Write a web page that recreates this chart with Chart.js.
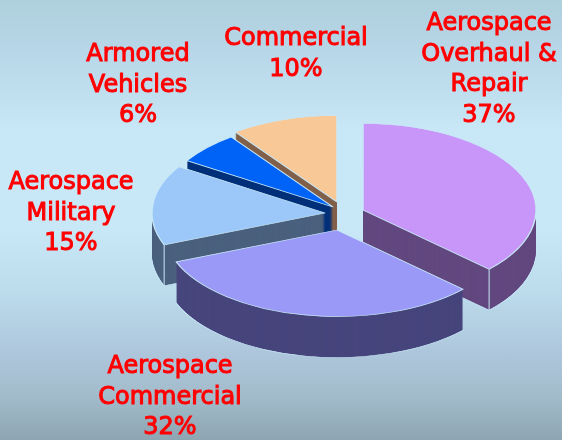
<!DOCTYPE html>
<html>
<head>
<meta charset="utf-8">
<script src="https://cdn.jsdelivr.net/npm/chart.js@4"></script>
<style>
html,body{margin:0;padding:0;width:562px;height:440px;overflow:hidden;
background:linear-gradient(to bottom,#aed0dc 0%,#b6d5e6 10%,#c0e0f0 22%,#c8e8f8 30%,#c8e8f8 52%,#bcdcec 66%,#aec6dc 80%,#a2bccb 90%,#8ea5b2 100%);}
canvas{display:block}
</style>
</head>
<body>
<canvas id="c" width="562" height="440"></canvas>
<script>
const categories = ["Aerospace Overhaul & Repair","Aerospace Commercial","Aerospace Military","Armored Vehicles","Commercial"];
const shares = [37,32,15,6,10];
const labelLines = [["Aerospace","Overhaul &","Repair"],["Aerospace","Commercial"],["Aerospace","Military"],["Armored","Vehicles"],["Commercial"]];
const topColors = ["#c896f8","#9b99f8","#9bc8f8","#0063f8","#f8c896"];
const wallColors = ["#62487f","#46457c","#4a607e","#00307a","#80604a"];
const edgeColor = "#c8e8f8";

// style: explode shift, projection and label placement
const explodeX = [27,1,-11,-3,1];
const explodeY = [2,22,5,-1,-6];
const squash = 0.5, depth = 41;
const paintOrder = [4,3,2,0,1];
const seamAt = {0:"endAngle",2:"startAngle"};
const labelX = [489,170,71,138,296];
const labelY = [24,367,183,55,39];
const lineStep = 30.5;

const pie3d = {
  id:"pie3d",
  beforeDatasetsDraw(chart){
    const ctx = chart.ctx, arcs = chart.getDatasetMeta(0).data;
    const drawLayer = (arc,i,k,fill,bw)=>{
      const o = arc.options;
      arc.options = Object.assign({},o,{backgroundColor:fill,borderColor:edgeColor,borderWidth:bw,borderAlign:"center"});
      ctx.save();
      ctx.translate(arc.x+explodeX[i],arc.y+explodeY[i]+k);
      ctx.scale(1,squash);
      ctx.translate(-arc.x,-arc.y);
      arc.draw(ctx);
      ctx.restore();
      arc.options = o;
    };
    paintOrder.forEach(i=>{
      const arc = arcs[i];
      drawLayer(arc,i,depth,wallColors[i],1.2);
      for(let k=depth-1;k>0;k--) drawLayer(arc,i,k,wallColors[i],0);
      if(seamAt[i]){
        const a = arc[seamAt[i]], r = arc.outerRadius;
        const x = arc.x+explodeX[i]+r*Math.cos(a), y = arc.y+explodeY[i]+r*squash*Math.sin(a);
        ctx.save();ctx.strokeStyle=edgeColor;ctx.lineWidth=1;
        ctx.beginPath();ctx.moveTo(x,y);ctx.lineTo(x,y+depth);ctx.stroke();ctx.restore();
      }
      drawLayer(arc,i,0,topColors[i],1.4);
    });
    return false;
  },
  afterDraw(chart){
    const ctx = chart.ctx;
    ctx.save();
    ctx.fillStyle="#ff0000";
    ctx.strokeStyle="#ff0000";
    ctx.lineWidth=1;
    ctx.textAlign="center";ctx.textBaseline="middle";
    ctx.font='24px "DejaVu Sans"';
    categories.forEach((c,i)=>{
      const lines = labelLines[i].concat(shares[i]+"%");
      lines.forEach((t,j)=>{
        ctx.fillText(t,labelX[i],labelY[i]+j*lineStep);
        ctx.strokeText(t,labelX[i],labelY[i]+j*lineStep);
      });
    });
    ctx.restore();
  }
};

new Chart(document.getElementById("c"),{
  type:"pie",
  data:{labels:categories,datasets:[{data:shares,backgroundColor:topColors,borderWidth:0,radius:173}]},
  options:{
    responsive:false,animation:false,
    layout:{padding:{left:110,bottom:24}},
    plugins:{legend:{display:false},tooltip:{enabled:false},title:{display:false}}
  },
  plugins:[pie3d]
});
</script>
</body>
</html>
